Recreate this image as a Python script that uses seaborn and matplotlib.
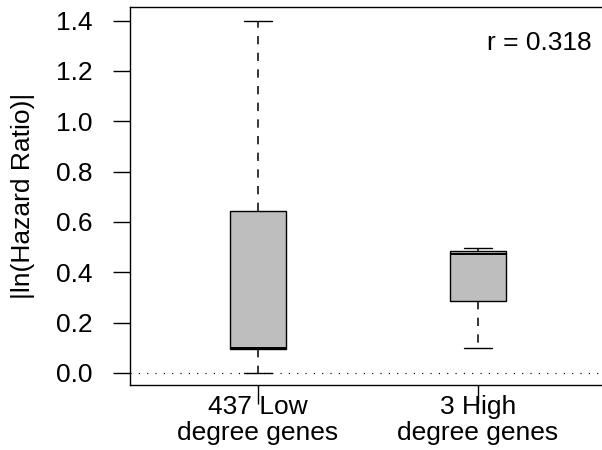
import matplotlib
matplotlib.use("Agg")
import matplotlib.pyplot as plt
import seaborn as sns
import pandas as pd
import numpy as np

# ---- data (summary values) ----
categories = ["437 Low\ndegree genes", "3 High\ndegree genes"]
low_values = [0.0, 0.095, 0.10, 0.645, 1.40]     # min, Q1, median, Q3, max
high_values = [0.10, 0.472, 0.498]                # three genes
y_ticks = [0.0, 0.2, 0.4, 0.6, 0.8, 1.0, 1.2, 1.4]
y_label = "|ln(Hazard Ratio)|"
annotation = "r = 0.318"

df = pd.DataFrame({
    "group": [categories[0]] * len(low_values) + [categories[1]] * len(high_values),
    "value": low_values + high_values,
})

sns.set_theme(style="white")
plt.rcParams["font.family"] = ["Liberation Sans", "DejaVu Sans"]
plt.rcParams["lines.scale_dashes"] = False
for k in ["text.color", "axes.labelcolor", "xtick.color", "ytick.color", "axes.edgecolor"]:
    plt.rcParams[k] = "black"

fig = plt.figure(figsize=(6.02, 4.5), dpi=100)
ax = fig.add_axes([130 / 602, 65 / 450, 1 - 130 / 602, 378 / 450])

ax.axhline(0, color="black", linewidth=0.9, linestyle=(0, (0.8, 5.2)), zorder=1)

sns.boxplot(
    data=df, x="group", y="value", order=categories, ax=ax,
    width=0.255, color="#BEBEBE", saturation=1, linecolor="black",
    linewidth=1.0, showfliers=False, whis=1.5,
    whiskerprops=dict(linestyle=(0, (6, 6)), linewidth=1.1),
    medianprops=dict(linewidth=1.4, color="black"),
    capprops=dict(linewidth=1.0),
)

ax.set_xlim(-128 / 220, 1 + 124 / 220)
ax.set_ylim(-0.048, 1.454)
ax.set_yticks(y_ticks)
ax.set_yticklabels([f"{v:.1f}" for v in y_ticks])
ax.set_xlabel("")
ax.set_ylabel(y_label, fontsize=19, labelpad=15, color="black")

for s in ["left", "top", "bottom"]:
    ax.spines[s].set_color("black")
    ax.spines[s].set_linewidth(1.0)
ax.spines["right"].set_visible(False)

ax.tick_params(axis="y", direction="out", length=12, width=1.0, color="black",
               labelcolor="black", labelsize=19, pad=15, left=True)
ax.tick_params(axis="x", direction="out", length=14, width=1.0, color="black",
               labelcolor="black", labelsize=19, pad=-7, bottom=True)
for lab in ax.get_xticklabels():
    lab.set_linespacing(1.1)

fig.text(592 / 602, 1 - 43 / 450, annotation, ha="right", va="center",
         fontsize=19, color="black")

fig.savefig("out.png", dpi=100)
